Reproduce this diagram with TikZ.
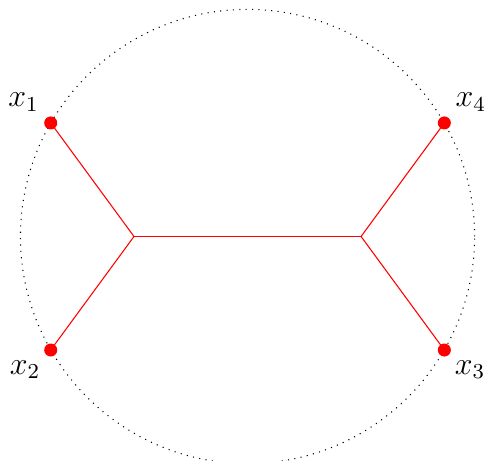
\documentclass[tikz,border=0pt]{standalone}
\begin{document}
\begin{tikzpicture}
\tikzset{
  pt/.style={circle, fill=red, inner sep=0pt, minimum size=4.9pt},
  edge/.style={red, line width=0.4pt},
  lbl/.style={font=\large},
}
\useasboundingbox (-3.27,-2.966) rectangle (3.137,3.124);
\draw[dotted] (0,0) circle (3);
\coordinate (a) at (-1.5,0);
\coordinate (b) at (1.5,0);
\node[pt] (p1) at (-2.6,1.5) {};
\node[pt] (p2) at (-2.6,-1.5) {};
\node[pt] (p3) at (2.6,-1.5) {};
\node[pt] (p4) at (2.6,1.5) {};
\draw[edge] (p1.center) -- (a) -- (p2.center);
\draw[edge] (a) -- (b);
\draw[edge] (p4.center) -- (b) -- (p3.center);
\node[lbl] (l1) at ([shift={(-0.36,0.27)}]p1.center) {$x_1$};
\node[lbl] (l2) at ([shift={(-0.34,-0.26)}]p2.center) {$x_2$};
\node[lbl] (l3) at ([shift={(0.34,-0.26)}]p3.center) {$x_3$};
\node[lbl] (l4) at ([shift={(0.35,0.27)}]p4.center) {$x_4$};
\end{tikzpicture}
\end{document}
